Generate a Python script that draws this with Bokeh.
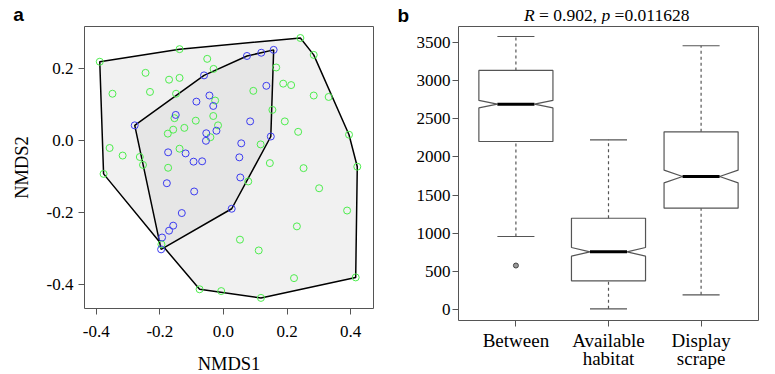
from bokeh.plotting import figure
from bokeh.layouts import row, column
from bokeh.models import FixedTicker, Range1d
from bokeh.core.properties import value
from bokeh.embed import file_html
from bokeh.resources import INLINE

# ---------------- Panel a: NMDS ordination ----------------
green_x = [-0.389, -0.138, -0.051, -0.031, -0.245, -0.171, -0.138, -0.349, -0.231, -0.149,
           -0.026, -0.032, -0.154, -0.087, -0.017, -0.123, -0.158, -0.175, -0.041, -0.358,
           -0.317, -0.263, -0.138, -0.253, -0.174, 0.094, 0.117, 0.146, 0.242, 0.284,
           0.166, 0.188, 0.213, 0.284, 0.331, 0.154, 0.193, 0.235, 0.395, 0.252,
           0.421, -0.377, 0.078, 0.052, 0.111, -0.075, -0.007, 0.118, 0.301, 0.389,
           0.231, 0.222, 0.416, -0.195]
green_y = [0.219, 0.254, 0.227, 0.199, 0.188, 0.169, 0.174, 0.130, 0.135, 0.130,
           0.111, 0.068, 0.062, 0.055, 0.042, 0.035, 0.030, 0.019, 0.009, -0.021,
           -0.042, -0.046, -0.023, -0.068, -0.076, 0.138, -0.011, -0.063, 0.285, 0.238,
           0.203, 0.158, 0.154, 0.125, 0.121, 0.085, 0.053, 0.024, 0.016, -0.077,
           -0.073, -0.093, -0.114, -0.276, -0.306, -0.414, -0.419, -0.438, -0.133, -0.195,
           -0.239, -0.383, -0.381, -0.289]
blue_x = [0.074, 0.119, 0.158, -0.061, -0.044, -0.085, -0.032, -0.150, -0.279, 0.084,
          -0.054, -0.022, -0.055, 0.056, -0.174, -0.119, 0.050, -0.094, -0.067, 0.135,
          0.149, 0.053, -0.178, -0.092, 0.026, -0.131, -0.158, -0.171, -0.193, -0.196]
blue_y = [0.235, 0.244, 0.252, 0.181, 0.125, 0.108, 0.096, 0.071, 0.042, 0.053,
          0.020, 0.027, -0.001, -0.008, -0.033, -0.036, -0.047, -0.059, -0.058, 0.152,
          0.011, -0.103, -0.119, -0.142, -0.190, -0.202, -0.237, -0.251, -0.270, -0.303]
a_xticks = [-0.4, -0.2, 0.0, 0.2, 0.4]
a_xtick_labels = ["-0.4", "-0.2", "0.0", "0.2", "0.4"]
a_yticks = [-0.4, -0.2, 0.0, 0.2]
a_ytick_labels = ["-0.4", "-0.2", "0.0", "0.2"]

# ---------------- Panel b: notched box plot ----------------
categories = ["Between", "Available\nhabitat", "Display\nscrape"]
box_low = [955, 5, 189]
box_q1 = [2203, 373, 1327]
box_med = [2693, 754, 1743]
box_q3 = [3136, 1195, 2330]
box_high = [3582, 2225, 3460]
box_notch = [49, 57, 83]
outlier_group = [1]
outlier_value = [574]
b_yticks = [0, 500, 1000, 1500, 2000, 2500, 3000, 3500]
title_parts = ["R", "= 0.902,", "p", "=0.011628"]
title_styles = ["italic", "normal", "italic", "normal"]
panel_letters = ["a", "b"]

SERIF = "Liberation Serif"
SANS = "Liberation Sans"
GREY = "#555555"
HEADER_H = 24
TEXT_SHIFT = 5   # empirical offset of text baselines inside the header strip


def convex_hull(xs, ys):
    pts = sorted(set(zip(xs, ys)))

    def cross(o, a, b):
        return (a[0] - o[0]) * (b[1] - o[1]) - (a[1] - o[1]) * (b[0] - o[0])

    lower = []
    for p in pts:
        while len(lower) >= 2 and cross(lower[-2], lower[-1], p) <= 0:
            lower.pop()
        lower.append(p)
    upper = []
    for p in reversed(pts):
        while len(upper) >= 2 and cross(upper[-2], upper[-1], p) <= 0:
            upper.pop()
        upper.append(p)
    h = lower[:-1] + upper[:-1]
    return [p[0] for p in h], [p[1] for p in h]


def style_axes(p, tick_size):
    for ax in (p.xaxis[0], p.yaxis[0]):
        ax.axis_line_color = None
        ax.major_tick_line_color = GREY
        ax.major_tick_in = 0
        ax.major_tick_out = 6
        ax.minor_tick_line_color = None
        ax.major_label_text_font = SERIF
        ax.major_label_text_font_size = tick_size
        ax.major_label_text_color = "black"
        ax.axis_label_text_font = SERIF
        ax.axis_label_text_font_style = "normal"
        ax.axis_label_text_font_size = "18.5px"
        ax.axis_label_text_color = "black"
    p.xgrid.grid_line_color = None
    p.ygrid.grid_line_color = None
    p.outline_line_color = GREY
    p.outline_line_width = 1
    p.background_fill_color = "white"
    p.border_fill_color = "white"


# ---------- header strip holding panel letters and the panel-b title ----------
header = figure(width=775, height=HEADER_H, x_range=Range1d(0, 775), y_range=Range1d(HEADER_H, 0),
                min_border=0, x_axis_type=None, y_axis_type=None,
                output_backend="svg", toolbar_location=None)
header.title_location = None
header.outline_line_color = None
header.background_fill_color = "white"
header.border_fill_color = "white"
header.text(x=[12.7, 397], y=[19.3 - TEXT_SHIFT, 19.5 - TEXT_SHIFT], text=panel_letters,
            text_font=value(SANS), text_font_style=value("bold"), text_font_size=value("19px"),
            text_color="black", text_baseline="alphabetic", text_align="left")
fs = 17.5
x0 = 523.5
x_px = [x0, x0 + (0.611 + 0.25) * fs, x0 + (0.611 + 3.814) * fs,
        x0 + (0.611 + 3.814 + 0.5 + 0.25) * fs]
for txt, style, px in zip(title_parts, title_styles, x_px):
    header.text(x=[px], y=[19.3 - TEXT_SHIFT], text=[txt], text_font=value(SERIF),
                text_font_style=value(style), text_font_size=value(f"{fs}px"),
                text_color="black", text_baseline="alphabetic", text_align="left")

# ---------- panel a ----------
pa = figure(frame_width=289, frame_height=282,
            min_border_left=84, min_border_right=18, min_border_top=26 - HEADER_H,
            min_border_bottom=66,
            x_range=Range1d(-0.437, 0.472), y_range=Range1d(-0.4675, 0.317),
            output_backend="svg", toolbar_location=None)
style_axes(pa, "17px")
pa.xaxis.ticker = FixedTicker(ticks=a_xticks)
pa.yaxis.ticker = FixedTicker(ticks=a_yticks)
pa.xaxis.major_label_overrides = dict(zip(a_xticks, a_xtick_labels))
pa.yaxis.major_label_overrides = dict(zip(a_yticks, a_ytick_labels))
pa.xaxis.axis_label = "NMDS1"
pa.yaxis.axis_label = "NMDS2"
pa.xaxis.major_label_standoff = 11
pa.xaxis.axis_label_standoff = 14
pa.yaxis.major_label_standoff = 5
pa.yaxis.axis_label_standoff = 12

gx, gy = convex_hull(green_x, green_y)
bx, by = convex_hull(blue_x, blue_y)
pa.patch(gx, gy, fill_color="#f1f1f1", line_color="black", line_width=1.5)
pa.patch(bx, by, fill_color="#e6e6e6", line_color="black", line_width=1.5)
pa.scatter(green_x, green_y, marker="circle", size=7, fill_color=None,
           line_color="#4ded4d", line_width=1)
pa.scatter(blue_x, blue_y, marker="circle", size=7, fill_color=None,
           line_color="#3b3bf0", line_width=1)

# ---------- panel b ----------
pb = figure(frame_width=300, frame_height=294,
            min_border_left=67, min_border_right=17, min_border_top=1, min_border_bottom=55,
            x_range=Range1d(0.38, 3.62), y_range=Range1d(-148, 3713),
            output_backend="svg", toolbar_location=None)
style_axes(pb, "17px")
group_pos = list(range(1, len(categories) + 1))
pb.xaxis.ticker = FixedTicker(ticks=group_pos)
pb.xaxis.major_label_overrides = dict(zip(group_pos, categories))
pb.xaxis.major_label_text_font_size = "19px"
pb.xaxis.major_label_text_line_height = 0.88
pb.xaxis.major_label_standoff = 3
pb.yaxis.ticker = FixedTicker(ticks=b_yticks)
pb.yaxis.major_label_overrides = {t: str(t) for t in b_yticks}
pb.yaxis.major_label_standoff = 2

half_w = 0.4
notch_w = 0.2
cap_w = 0.2
xs, ys = [], []
for c, q1, m, q3, n in zip(group_pos, box_q1, box_med, box_q3, box_notch):
    xs.append([c - half_w, c - half_w, c - notch_w, c - half_w, c - half_w,
               c + half_w, c + half_w, c + notch_w, c + half_w, c + half_w])
    ys.append([q1, m - n, m, m + n, q3, q3, m + n, m, m - n, q1])
pb.patches(xs, ys, fill_color="white", line_color=GREY, line_width=1.2)
pb.segment([c - notch_w for c in group_pos], box_med, [c + notch_w for c in group_pos], box_med,
           line_color="black", line_width=3)
pb.segment(group_pos, box_q3, group_pos, box_high, line_color=GREY, line_width=1.2, line_dash="3 3")
pb.segment(group_pos, box_low, group_pos, box_q1, line_color=GREY, line_width=1.2, line_dash="3 3")
pb.segment([c - cap_w for c in group_pos], box_high, [c + cap_w for c in group_pos], box_high,
           line_color=GREY, line_width=1.2)
pb.segment([c - cap_w for c in group_pos], box_low, [c + cap_w for c in group_pos], box_low,
           line_color=GREY, line_width=1.2)
pb.scatter(outlier_group, outlier_value, marker="circle", size=5, fill_color="#999999",
           line_color="#444444", line_width=1)

layout = column(header, row(pa, pb))
open("out.html", "w").write(file_html(layout, INLINE))
